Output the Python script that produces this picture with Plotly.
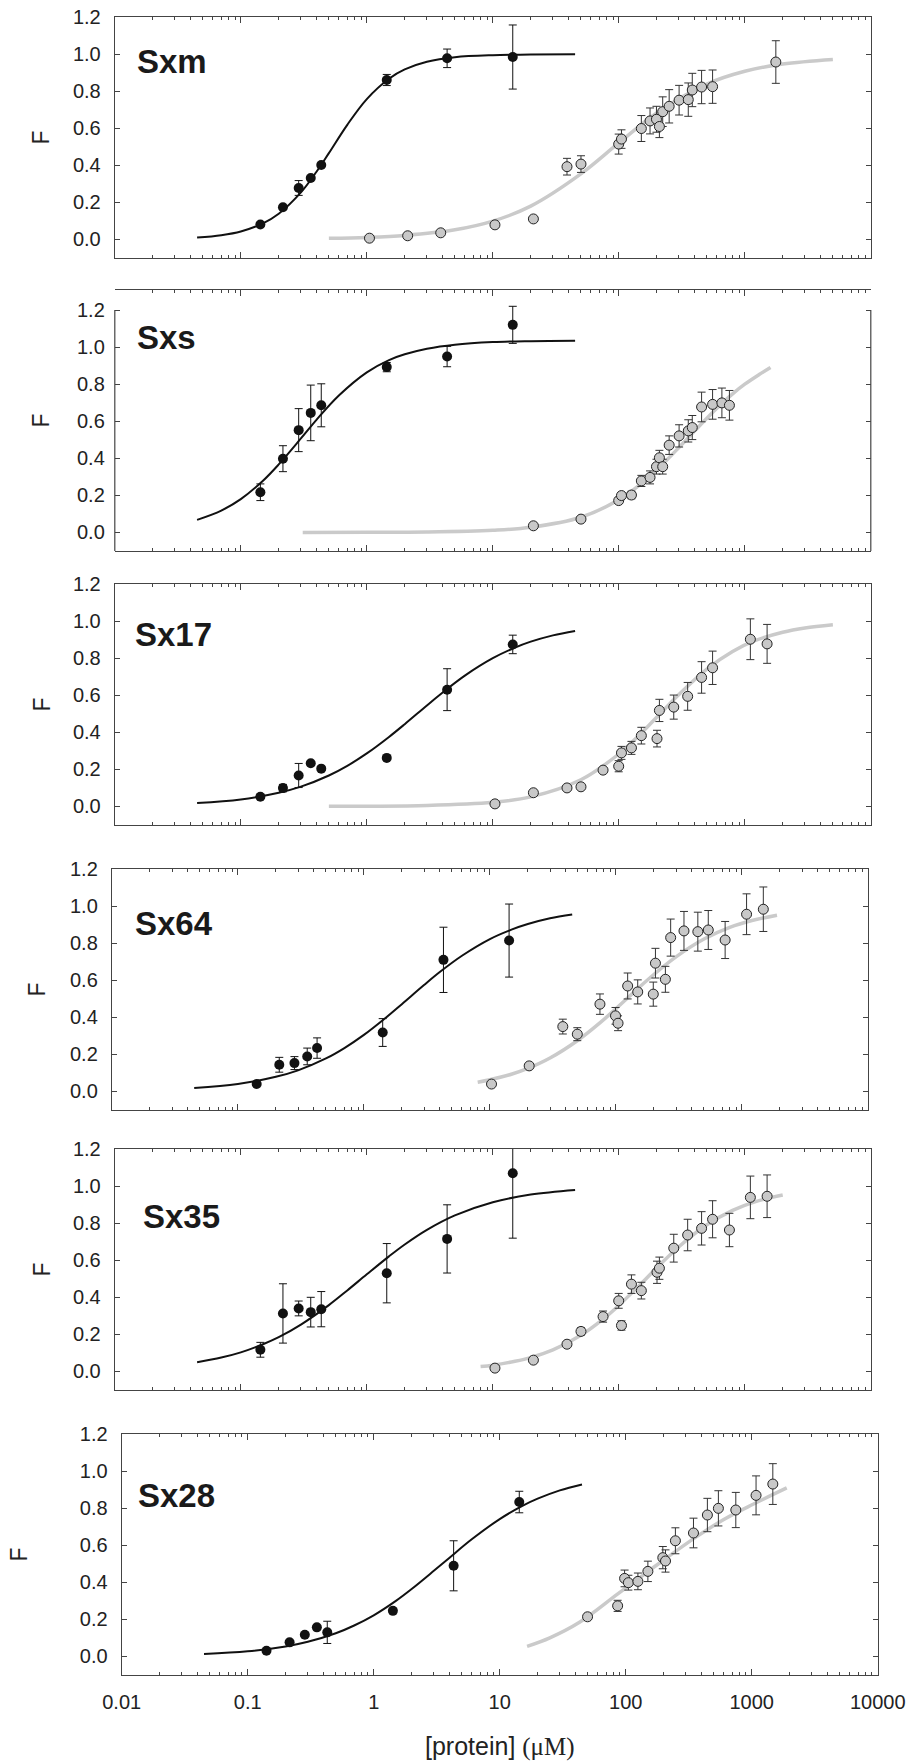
import plotly.graph_objects as go

# ---------------- data ----------------
labels = ["Sxm", "Sxs", "Sx17", "Sx64", "Sx35", "Sx28"]

# black (filled) points
bx1 = [0.143, 0.216, 0.288, 0.359, 0.435, 1.44, 4.34, 14.4]
by1 = [0.081, 0.174, 0.278, 0.332, 0.402, 0.861, 0.978, 0.985]
be1 = [0.0, 0.0, 0.04, 0.0, 0.0, 0.03, 0.05, 0.173]

bx2 = [0.143, 0.216, 0.288, 0.359, 0.435, 1.44, 4.34, 14.4]
by2 = [0.217, 0.398, 0.552, 0.645, 0.686, 0.892, 0.949, 1.12]
be2 = [0.045, 0.07, 0.116, 0.15, 0.116, 0.025, 0.055, 0.1]

bx3 = [0.143, 0.216, 0.288, 0.359, 0.435, 1.44, 4.34, 14.4]
by3 = [0.052, 0.099, 0.167, 0.233, 0.204, 0.262, 0.630, 0.874]
be3 = [0.0, 0.02, 0.065, 0.0, 0.0, 0.0, 0.113, 0.05]

bx4 = [0.141, 0.213, 0.281, 0.355, 0.425, 1.41, 4.28, 14.2]
by4 = [0.040, 0.144, 0.153, 0.189, 0.234, 0.318, 0.710, 0.814]
be4 = [0.0, 0.04, 0.035, 0.045, 0.055, 0.075, 0.176, 0.197]

bx5 = [0.143, 0.216, 0.288, 0.359, 0.435, 1.44, 4.34, 14.4]
by5 = [0.117, 0.313, 0.340, 0.320, 0.336, 0.530, 0.715, 1.069]
be5 = [0.04, 0.16, 0.04, 0.08, 0.095, 0.16, 0.184, 0.35]

bx6 = [0.141, 0.215, 0.284, 0.354, 0.428, 1.42, 4.31, 14.3]
by6 = [0.031, 0.076, 0.117, 0.157, 0.130, 0.246, 0.489, 0.833]
be6 = [0.0, 0.0, 0.0, 0.0, 0.06, 0.0, 0.135, 0.058]

# grey (open) points
gx1 = [1.05, 2.11, 3.86, 10.4, 21.0, 38.8, 50.1, 99.8, 105, 151, 177, 199, 210, 223, 251, 301, 356, 383, 454, 555, 1763]
gy1 = [0.007, 0.020, 0.036, 0.079, 0.111, 0.393, 0.407, 0.515, 0.542, 0.599, 0.640, 0.649, 0.610, 0.690, 0.719, 0.752, 0.755, 0.807, 0.823, 0.825, 0.958]
ge1 = [0, 0, 0, 0, 0, 0.045, 0.045, 0.054, 0.05, 0.07, 0.07, 0.07, 0.06, 0.08, 0.09, 0.08, 0.09, 0.09, 0.09, 0.09, 0.115]

gx2 = [21.0, 50.1, 99.8, 105, 126, 151, 177, 199, 210, 223, 251, 301, 356, 383, 454, 555, 658, 755]
gy2 = [0.036, 0.072, 0.172, 0.199, 0.202, 0.278, 0.297, 0.355, 0.403, 0.355, 0.471, 0.521, 0.548, 0.566, 0.677, 0.691, 0.699, 0.686]
ge2 = [0, 0, 0, 0, 0.02, 0.03, 0.035, 0.04, 0.04, 0.04, 0.05, 0.06, 0.06, 0.065, 0.08, 0.08, 0.08, 0.08]

gx3 = [10.4, 21.0, 38.8, 50.1, 75.0, 99.8, 105, 126, 151, 201, 210, 273, 352, 454, 555, 1107, 1503]
gy3 = [0.014, 0.074, 0.100, 0.106, 0.196, 0.217, 0.289, 0.316, 0.382, 0.366, 0.518, 0.536, 0.594, 0.696, 0.748, 0.902, 0.877]
ge3 = [0, 0, 0, 0, 0, 0.03, 0.035, 0.035, 0.045, 0.045, 0.06, 0.065, 0.075, 0.085, 0.09, 0.11, 0.105]

gx4 = [10.3, 20.5, 37.9, 49.4, 74.7, 99.3, 104, 124, 149, 198, 206, 247, 272, 347, 447, 541, 736, 1089, 1479]
gy4 = [0.040, 0.138, 0.350, 0.309, 0.471, 0.408, 0.368, 0.569, 0.537, 0.525, 0.692, 0.605, 0.830, 0.866, 0.862, 0.871, 0.817, 0.956, 0.983]
ge4 = [0, 0, 0.04, 0.035, 0.055, 0.045, 0.04, 0.07, 0.065, 0.065, 0.08, 0.07, 0.1, 0.105, 0.105, 0.105, 0.1, 0.11, 0.12]

gx5 = [10.4, 21.0, 38.8, 50.1, 75.0, 99.8, 105, 126, 151, 201, 210, 273, 352, 454, 555, 755, 1107, 1503]
gy5 = [0.018, 0.061, 0.147, 0.216, 0.296, 0.381, 0.248, 0.471, 0.436, 0.535, 0.557, 0.665, 0.736, 0.772, 0.821, 0.763, 0.939, 0.945]
ge5 = [0, 0, 0, 0.02, 0.03, 0.04, 0.025, 0.05, 0.045, 0.06, 0.06, 0.075, 0.085, 0.09, 0.1, 0.09, 0.115, 0.115]

gx6 = [49.8, 86.3, 98, 105, 125, 150, 197, 207, 248, 345, 445, 544, 748, 1083, 1471]
gy6 = [0.214, 0.273, 0.421, 0.398, 0.405, 0.459, 0.533, 0.515, 0.624, 0.666, 0.763, 0.799, 0.790, 0.869, 0.930]
ge6 = [0, 0.03, 0.045, 0.04, 0.045, 0.055, 0.06, 0.06, 0.07, 0.08, 0.09, 0.095, 0.095, 0.105, 0.11]

# fitted curves, points
bcx1 = [0.045, 0.07, 0.1, 0.15, 0.2, 0.3, 0.4, 0.5, 0.7, 1, 1.5, 2, 3, 5, 10, 20, 45]
bcy1 = [0.010, 0.023, 0.043, 0.087, 0.139, 0.254, 0.367, 0.466, 0.619, 0.758, 0.868, 0.918, 0.959, 0.984, 0.995, 0.998, 1.0]
gcx1 = [0.5, 1, 2, 5, 10, 20, 50, 100, 200, 500, 1000, 2000, 5000]
gcy1 = [0.006, 0.011, 0.022, 0.052, 0.099, 0.18, 0.354, 0.521, 0.683, 0.839, 0.908, 0.947, 0.972]

bcx2 = [0.045, 0.07, 0.1, 0.15, 0.2, 0.3, 0.4, 0.6, 1, 1.5, 2, 3, 5, 10, 20, 45]
bcy2 = [0.068, 0.118, 0.180, 0.279, 0.367, 0.507, 0.609, 0.739, 0.864, 0.930, 0.961, 0.991, 1.013, 1.027, 1.032, 1.034]
gcx2 = [0.31, 1, 3, 10, 20, 50, 100, 150, 200, 300, 400, 600, 800, 1000, 1300, 1600]
gcy2 = [0.0002, 0.0007, 0.0026, 0.012, 0.028, 0.082, 0.176, 0.262, 0.337, 0.458, 0.548, 0.670, 0.748, 0.800, 0.852, 0.89]

bcx3 = [0.045, 0.1, 0.2, 0.3, 0.5, 0.7, 1, 1.5, 2, 3, 4, 6, 10, 15, 20, 30, 45]
bcy3 = [0.018, 0.038, 0.074, 0.107, 0.167, 0.219, 0.286, 0.375, 0.444, 0.545, 0.615, 0.706, 0.8, 0.857, 0.889, 0.923, 0.947]
gcx3 = [0.5, 1, 3, 10, 20, 50, 100, 150, 200, 300, 500, 800, 1200, 2000, 3000, 5000]
gcy3 = [0.0006, 0.0013, 0.0052, 0.0226, 0.0515, 0.144, 0.283, 0.394, 0.481, 0.604, 0.741, 0.836, 0.894, 0.940, 0.963, 0.980]

bcx4 = [0.045, 0.1, 0.2, 0.3, 0.5, 0.7, 1, 1.5, 2, 3, 4, 6, 10, 15, 20, 30, 45]
bcy4 = [0.018, 0.040, 0.079, 0.114, 0.178, 0.234, 0.305, 0.399, 0.471, 0.574, 0.644, 0.732, 0.822, 0.874, 0.903, 0.934, 0.955]
gcx4 = [8, 10, 15, 20, 30, 50, 75, 100, 150, 200, 300, 500, 800, 1200, 1900]
gcy4 = [0.050, 0.063, 0.094, 0.124, 0.180, 0.276, 0.371, 0.446, 0.556, 0.631, 0.726, 0.822, 0.885, 0.922, 0.951]

bcx5 = [0.045, 0.07, 0.1, 0.15, 0.2, 0.3, 0.5, 0.7, 1, 1.5, 2, 3, 5, 10, 20, 45]
bcy5 = [0.050, 0.075, 0.103, 0.147, 0.185, 0.253, 0.358, 0.437, 0.524, 0.621, 0.685, 0.764, 0.842, 0.913, 0.954, 0.979]
gcx5 = [8, 10, 15, 20, 30, 50, 75, 100, 150, 200, 300, 500, 800, 1200, 2000]
gcy5 = [0.027, 0.034, 0.055, 0.075, 0.116, 0.195, 0.282, 0.356, 0.473, 0.559, 0.673, 0.791, 0.869, 0.915, 0.952]

bcx6 = [0.045, 0.1, 0.2, 0.3, 0.5, 0.7, 1, 1.5, 2, 3, 4, 6, 10, 15, 20, 30, 45]
bcy6 = [0.013, 0.028, 0.054, 0.079, 0.125, 0.167, 0.222, 0.3, 0.364, 0.462, 0.533, 0.632, 0.741, 0.811, 0.851, 0.896, 0.928]
gcx6 = [16.5, 25, 43, 86, 130, 189, 356, 605, 1026, 1897]
gcy6 = [0.054, 0.10, 0.184, 0.336, 0.426, 0.508, 0.641, 0.740, 0.821, 0.909]

y_ticks = [0.0, 0.2, 0.4, 0.6, 0.8, 1.0, 1.2]

series = [
    (bx1, by1, be1, gx1, gy1, ge1, bcx1, bcy1, gcx1, gcy1),
    (bx2, by2, be2, gx2, gy2, ge2, bcx2, bcy2, gcx2, gcy2),
    (bx3, by3, be3, gx3, gy3, ge3, bcx3, bcy3, gcx3, gcy3),
    (bx4, by4, be4, gx4, gy4, ge4, bcx4, bcy4, gcx4, gcy4),
    (bx5, by5, be5, gx5, gy5, ge5, bcx5, bcy5, gcx5, gcy5),
    (bx6, by6, be6, gx6, gy6, ge6, bcx6, bcy6, gcx6, gcy6),
]

# ---------------- layout geometry (pixels) ----------------
W, H = 907, 1762
# left, right, top, bottom, y-top value
boxes = [
    (114.8, 870.8, 17.2, 258.0, 1.2),
    (114.8, 870.8, 290.0, 551.0, 1.308),
    (114.8, 870.8, 584.0, 825.0, 1.2),
    (111.9, 867.9, 869.0, 1110.0, 1.2),
    (114.8, 870.8, 1149.0, 1390.0, 1.2),
    (121.7, 877.7, 1434.0, 1675.0, 1.2),
]
label_pos = [(135, 62), (135, 337), (133, 634), (133, 923), (141, 1216), (136, 1495)]
f_pos_x = [41, 41, 41, 37, 41, 18]

FONT = "Liberation Sans, Arial, sans-serif"
AX = "#444444"
BLACK = "#111111"
GREY_FILL = "#c8c8c8"
GREY_LINE = "#cacaca"

fig = go.Figure()
layout = dict(
    width=W, height=H, autosize=False,
    margin=dict(l=0, r=0, t=0, b=0, pad=0),
    paper_bgcolor="white", plot_bgcolor="white",
    showlegend=False, separators=".",
    font=dict(family=FONT, color="#222222"),
)
shapes = []
annotations = []

for i, (box, s) in enumerate(zip(boxes, series), start=1):
    l, r, t, b, ytop = box
    bx, by, be, gx, gy, ge, bcx, bcy, gcx, gcy = s
    xa = "x" if i == 1 else f"x{i}"
    ya = "y" if i == 1 else f"y{i}"
    xk = "xaxis" if i == 1 else f"xaxis{i}"
    yk = "yaxis" if i == 1 else f"yaxis{i}"

    fig.add_trace(go.Scatter(x=gcx, y=gcy, mode="lines", xaxis=xa, yaxis=ya,
                             line=dict(color=GREY_LINE, width=3.5, shape="spline", smoothing=1.0),
                             hoverinfo="skip"))
    fig.add_trace(go.Scatter(x=bcx, y=bcy, mode="lines", xaxis=xa, yaxis=ya,
                             line=dict(color=BLACK, width=2, shape="spline", smoothing=1.0),
                             hoverinfo="skip"))
    fig.add_trace(go.Scatter(x=gx, y=gy, mode="markers", xaxis=xa, yaxis=ya,
                             marker=dict(size=10, color=GREY_FILL, line=dict(color="#222222", width=1)),
                             error_y=dict(type="data", array=ge, visible=True, color="#333333",
                                          thickness=1, width=4)))
    fig.add_trace(go.Scatter(x=bx, y=by, mode="markers", xaxis=xa, yaxis=ya,
                             marker=dict(size=10, color=BLACK, line=dict(width=0)),
                             error_y=dict(type="data", array=be, visible=True, color=BLACK,
                                          thickness=1, width=4)))

    layout[xk] = dict(
        type="log", range=[-2, 4], domain=[l / W, r / W], anchor=ya, automargin=False,
        showline=True, linecolor=AX, linewidth=1.2, mirror="allticks",
        ticks="inside", ticklen=6, tickwidth=1, tickcolor=AX,
        dtick=1, tick0=0, exponentformat="none",
        minor=dict(ticks="inside", ticklen=3, tickwidth=1, tickcolor=AX, dtick="D1", showgrid=False),
        showgrid=False, zeroline=False,
        showticklabels=(i == 6), ticklabelstandoff=9,
        tickfont=dict(family=FONT, size=20, color="#222222"),
    )
    layout[yk] = dict(
        range=[-0.1, ytop], domain=[1 - b / H, 1 - t / H], anchor=xa, automargin=False,
        showline=(i != 2), linecolor=AX, linewidth=1.2, mirror="ticks",
        ticks="inside", ticklen=5, tickwidth=1, tickcolor=AX,
        tickmode="array", tickvals=y_ticks, tickformat=".1f",
        showgrid=False, zeroline=False, ticklabelstandoff=9,
        tickfont=dict(family=FONT, size=20, color="#222222"),
    )
    if i == 2:
        for xd in (0, 1):
            shapes.append(dict(type="line", xref=f"{xa} domain", yref=ya,
                               x0=xd, x1=xd, y0=-0.1, y1=1.2,
                               line=dict(color=AX, width=1.2), layer="above"))

    lx, ly = label_pos[i - 1]
    annotations.append(dict(text=f"<b>{labels[i - 1]}</b>", xref="paper", yref="paper",
                            x=lx / W, y=1 - ly / H, xanchor="left", yanchor="middle",
                            showarrow=False, font=dict(family=FONT, size=33, color="#1a1a1a")))
    annotations.append(dict(text="F", xref="paper", yref="paper",
                            x=f_pos_x[i - 1] / W, y=1 - ((t + b) / 2) / H,
                            xanchor="center", yanchor="middle", textangle=-90,
                            showarrow=False, font=dict(family=FONT, size=23, color="#222222")))

annotations.append(dict(
    text='[protein] <span style="font-family:Liberation Serif, Times New Roman, serif">(μM)</span>',
    xref="paper", yref="paper", x=500 / W, y=1 - 1746 / H,
    xanchor="center", yanchor="middle", showarrow=False,
    font=dict(family=FONT, size=25, color="#222222")))

layout["shapes"] = shapes
layout["annotations"] = annotations
fig.update_layout(**layout)
fig.write_html("out.html", config={"displayModeBar": False},
               post_script="document.body.style.margin='0px';document.body.style.overflow='hidden';")
